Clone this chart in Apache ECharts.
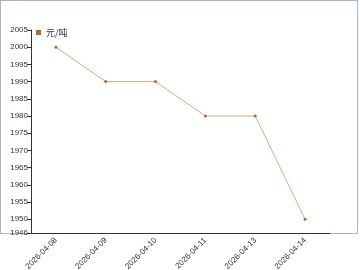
<!DOCTYPE html>
<html><head><meta charset="utf-8">
<script src="https://cdn.jsdelivr.net/npm/echarts@6/dist/echarts.min.js"></script>
<style>
html,body{margin:0;padding:0;background:#fff;}
#frame{position:absolute;left:0;top:0;width:356px;height:232px;border:1px solid #a8b0d8;}
#c{position:absolute;left:0;top:0;width:360px;height:270px;}
</style></head>
<body>
<div id="frame"></div>
<div id="c"></div>
<script>
const categories = ['2026-04-08','2026-04-09','2026-04-10','2026-04-11','2026-04-13','2026-04-14'];
const values = [2000, 1990, 1990, 1980, 1980, 1950];
const seriesName = '元/吨';
const chart = echarts.init(document.getElementById('c'));
chart.setOption({
  animation: false,
  legend: {
    left: 31, top: 23, itemWidth: 5, itemHeight: 5, icon: 'rect', itemGap: 3,
    textStyle: {fontSize: 9, color: '#333', fontFamily: 'Noto Sans CJK SC'},
    data: [seriesName]
  },
  grid: {left: 31, top: 30, right: 30, bottom: 37, outerBoundsMode: 'none', containLabel: false},
  xAxis: {
    type: 'category', data: categories, boundaryGap: true,
    axisLine: {lineStyle: {color: '#333'}},
    axisTick: {alignWithLabel: true, length: 4, lineStyle: {color: '#333'}},
    axisLabel: {rotate: 45, fontSize: 8, color: '#333', interval: 0, margin: 6}
  },
  yAxis: {
    type: 'value', min: 1946, max: 2005, splitNumber: 12,
    axisLine: {show: true, lineStyle: {color: '#333'}},
    axisTick: {show: true, length: 4, lineStyle: {color: '#333'}},
    splitLine: {show: false},
    axisLabel: {fontSize: 8, color: '#333', margin: 3, formatter: v => String(v)}
  },
  series: [{
    name: seriesName, type: 'line', data: values,
    symbol: 'circle', symbolSize: 3,
    itemStyle: {color: '#c0622a'},
    lineStyle: {color: '#e0a878', width: 1}
  }]
});
</script>
</body></html>
